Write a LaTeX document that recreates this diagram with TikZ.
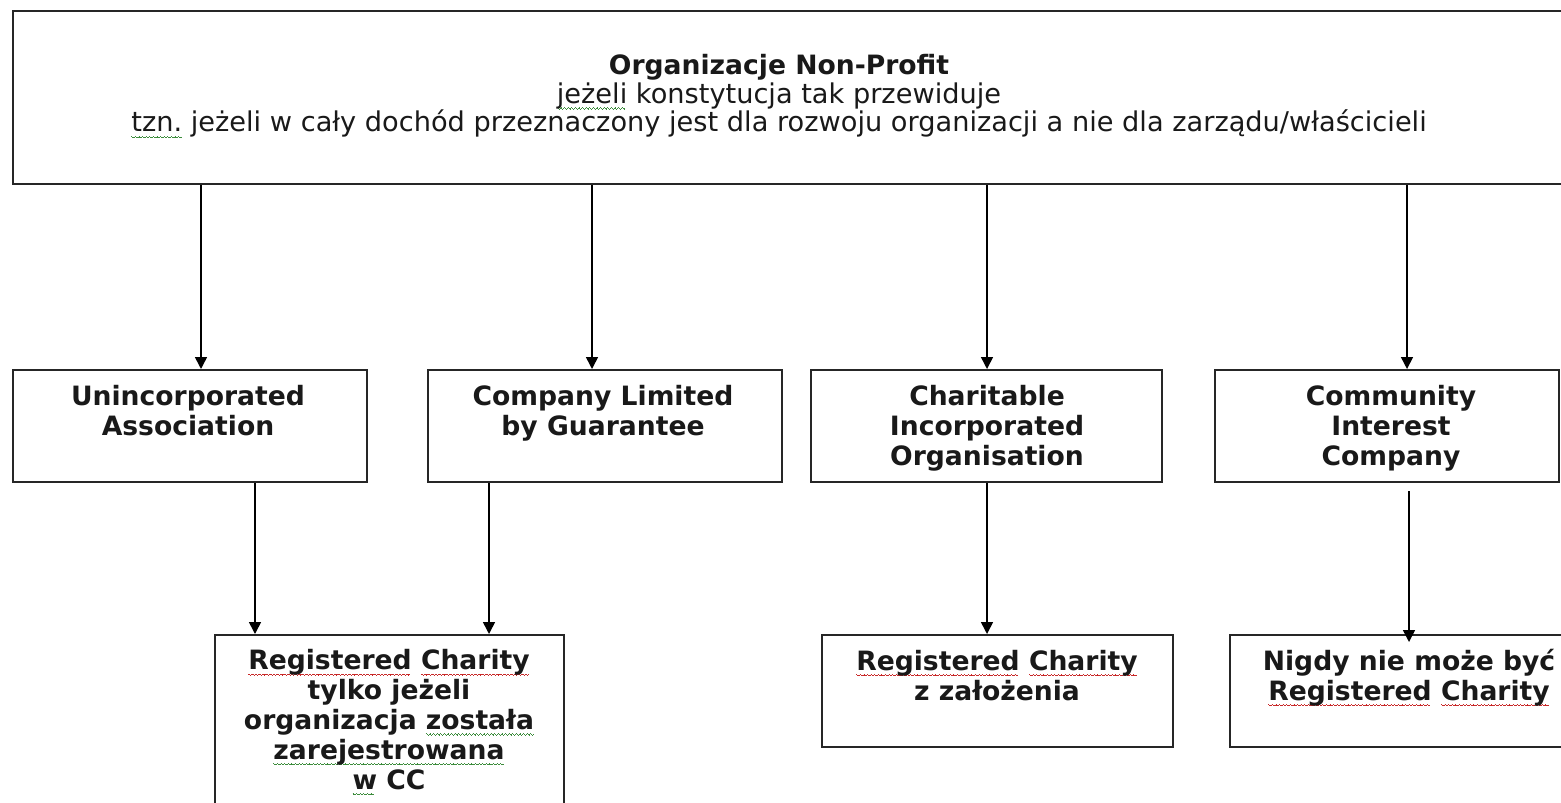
\documentclass[tikz,border=0pt]{standalone}
\usepackage{fontspec}
\setmainfont{DejaVu Sans}
\usetikzlibrary{arrows.meta,calc}
\definecolor{sqred}{RGB}{200,40,40}
\definecolor{sqgreen}{RGB}{60,140,60}
\newcommand\wavepat{\hbox{\rule[-2.4pt]{0.45pt}{0.4pt}\rule[-2.7pt]{0.45pt}{0.4pt}\rule[-3.0pt]{0.45pt}{0.4pt}\rule[-2.7pt]{0.45pt}{0.4pt}}}
\newcommand\wavesq[2]{\setbox0\hbox{#2}\leavevmode\rlap{\hbox to \wd0{\color{#1}\leaders\wavepat\hfill}}\box0\relax}
\newcommand\redsq[1]{\wavesq{sqred}{#1}}
\newcommand\greensq[1]{\wavesq{sqgreen}{#1}}
\begin{document}
\begin{tikzpicture}[x=0.5pt,y=-0.5pt,
  box/.style={draw=black!85, line width=1pt, inner sep=0pt, fill=white},
  btxt/.style={align=center, inner sep=0pt, anchor=base, text=black!90,
    font=\fontsize{13.3}{14.9}\selectfont\bfseries},
  ttxt/.style={align=center, inner sep=0pt, anchor=base, text=black!90,
    font=\fontsize{13.6}{14.25}\selectfont},
  arr/.style={-{Triangle[length=6pt,width=6pt]}, line width=0.8pt, draw=black}]
\useasboundingbox (0,0) rectangle (1561,802);
\fill[white] (0,0) rectangle (1561,802);
\clip (0,0) rectangle (1561,802);

% boxes
\node[box, minimum width=793.5pt, minimum height=86.5pt] (top) at (806.5,97.5) {};
\node[box, minimum width=177pt, minimum height=56pt] (u) at (190,426) {};
\node[box, minimum width=177pt, minimum height=56pt] (c) at (605,426) {};
\node[box, minimum width=175.5pt, minimum height=56pt] (o) at (986.5,426) {};
\node[box, minimum width=172pt, minimum height=56pt] (m) at (1387,426) {};
\node[box, minimum width=174.5pt, minimum height=97.5pt] (r1) at (389.5,732.5) {};
\node[box, minimum width=175.5pt, minimum height=56pt] (r3) at (997.5,691) {};
\node[box, minimum width=175.5pt, minimum height=56pt] (r4) at (1405.5,691) {};

% texts (anchor base = baseline of the last line)
\node[ttxt] (t0) at (779,132) {\textbf{\fontsize{13.3}{14.25}\selectfont Organizacje Non-Profit}\\\greensq{jeżeli} konstytucja tak przewiduje\\\greensq{tzn.} jeżeli w cały dochód przeznaczony jest dla rozwoju organizacji a nie dla zarządu/właścicieli};
\node[btxt] (tu) at (188,435) {Unincorporated\\Association};
\node[btxt] (tc) at (603,435) {Company Limited\\by Guarantee};
\node[btxt] (to) at (987,465) {Charitable\\Incorporated\\Organisation};
\node[btxt] (tm) at (1391,465) {Community\\Interest\\Company};
\node[btxt] (tr1) at (389,789) {\redsq{Registered} \redsq{Charity}\\tylko jeżeli\\organizacja \greensq{została}\\\greensq{zarejestrowana}\\\greensq{w} CC};
\node[btxt] (tr3) at (997,700) {\redsq{Registered} \redsq{Charity}\\z założenia};
\node[btxt] (tr4) at (1409,700) {Nigdy nie może być\\\redsq{Registered} \redsq{Charity}};

% connectors
\draw[arr] ([xshift=5.5pt]u.north |- top.south) -- ([xshift=5.5pt]u.north);
\draw[arr] ([xshift=-6.5pt]c.north |- top.south) -- ([xshift=-6.5pt]c.north);
\draw[arr] ([xshift=0.25pt]o.north |- top.south) -- ([xshift=0.25pt]o.north);
\draw[arr] ([xshift=10pt]m.north |- top.south) -- ([xshift=10pt]m.north);

\draw[arr] ([xshift=32.5pt]u.south) -- ([xshift=32.5pt]u.south |- r1.north);
\draw[arr] ([xshift=-58pt]c.south) -- ([xshift=-58pt]c.south |- r1.north);
\draw[arr] ([xshift=0.25pt]o.south) -- ([xshift=0.25pt]o.south |- r3.north);
\draw[arr] ([xshift=11pt,yshift=-4pt]m.south) -- ([xshift=11pt,yshift=-4pt]m.south |- r4.north);
\end{tikzpicture}
\end{document}
